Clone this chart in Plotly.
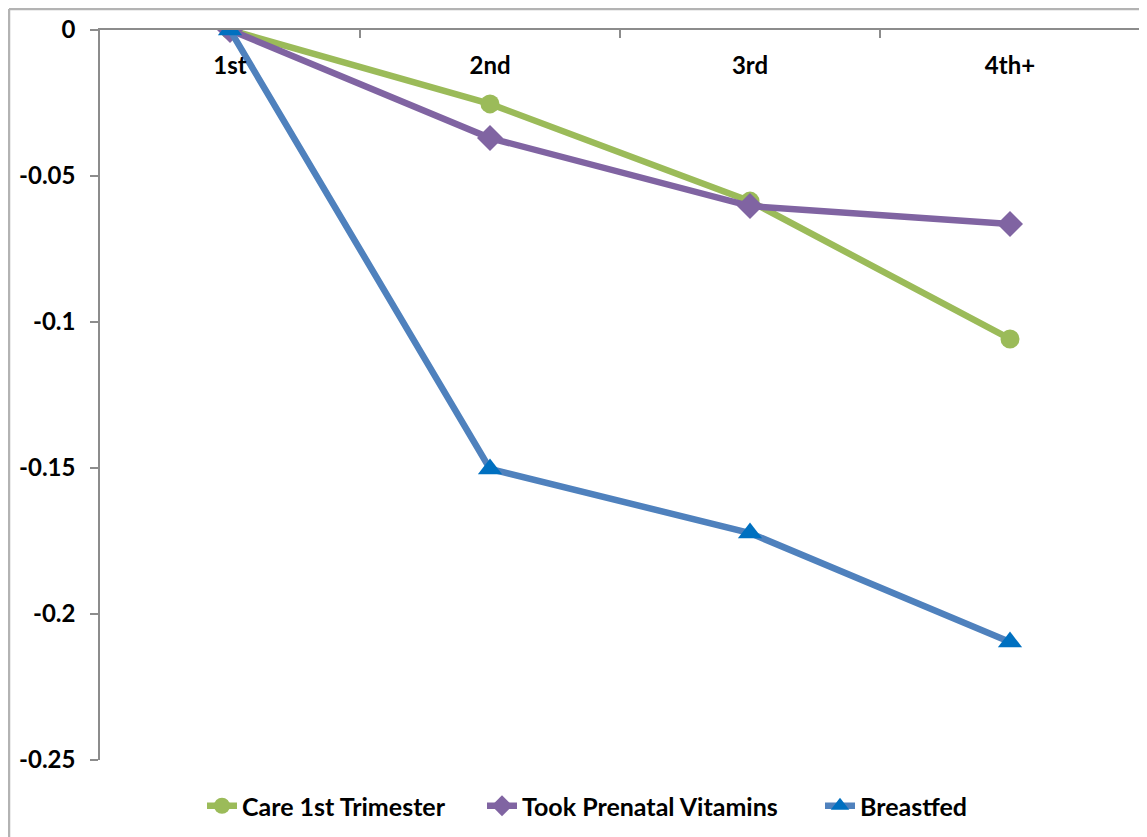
import plotly.graph_objects as go

categories = ["1st", "2nd", "3rd", "4th+"]
care_1st_trimester = [0.0, -0.0253, -0.0586, -0.1058]
took_prenatal_vitamins = [0.0, -0.0370, -0.0603, -0.0664]
breastfed = [0.0, -0.1503, -0.1723, -0.2096]

y_tickvals = [0, -0.05, -0.1, -0.15, -0.2, -0.25]
y_ticktext = ["0", "-0.05", "-0.1", "-0.15", "-0.2", "-0.25"]

FONT = "Lato"
FSIZE = 24
LSIZE = 25

# figure sits at (8,8) in the page because of the default body margin
W, H = 1139, 829
L, R, T, B = 92, 7, 22, 77
PW = W - L - R
PH = H - T - B

fig = go.Figure()
fig.add_trace(go.Scatter(
    x=categories, y=care_1st_trimester, name="Care 1st Trimester",
    mode="lines+markers", legend="legend",
    line=dict(color="#9BBB59", width=6.5),
    marker=dict(symbol="circle", size=19, color="#9BBB59"),
))
fig.add_trace(go.Scatter(
    x=categories, y=took_prenatal_vitamins, name="Took Prenatal Vitamins",
    mode="lines+markers", legend="legend2",
    line=dict(color="#8064A2", width=6.5),
    marker=dict(symbol="diamond", size=20, color="#8064A2"),
))
fig.add_trace(go.Scatter(
    x=categories, y=breastfed, name="Breastfed",
    mode="lines+markers", legend="legend3",
    line=dict(color="#4F81BD", width=6.5),
    marker=dict(symbol="triangle-up", size=21, color="#0070C0"),
))
# carrier for the category labels drawn just below the top axis line
fig.add_trace(go.Scatter(
    x=categories, y=[None] * len(categories), xaxis="x2",
    mode="lines", showlegend=False, hoverinfo="skip",
))


def legend_at(fig_x):
    return dict(
        orientation="h", x=(fig_x - L) / PW, xanchor="left",
        y=(PH + T - 798) / PH, yanchor="middle",
        font=dict(family=FONT, size=LSIZE, color="black", weight="bold"),
        bgcolor="rgba(0,0,0,0)",
    )


fig.update_layout(
    width=W, height=H,
    margin=dict(l=L, r=R, t=T, b=B),
    paper_bgcolor="white", plot_bgcolor="white",
    font=dict(family=FONT, size=FSIZE, color="black"),
    showlegend=True,
    legend=legend_at(194),
    legend2=legend_at(474),
    legend3=legend_at(812),
    xaxis=dict(
        type="category", range=[-0.5, 3.5], side="top",
        showline=True, linecolor="#8C8C8C", linewidth=1.5,
        ticks="inside", ticklen=8, tickcolor="#8C8C8C", tickwidth=1.5,
        tickson="boundaries", showticklabels=False,
        showgrid=False, zeroline=False, fixedrange=True,
    ),
    xaxis2=dict(
        type="category", range=[-0.5, 3.5], categoryarray=categories,
        overlaying="x", anchor="free", position=(PH + T - 41) / PH,
        side="bottom", showline=False, ticks="",
        tickfont=dict(family=FONT, size=FSIZE, color="black", weight="bold"),
        showgrid=False, zeroline=False, fixedrange=True,
    ),
    yaxis=dict(
        range=[-0.25, 0], tickvals=y_tickvals, ticktext=y_ticktext,
        showline=True, linecolor="#8C8C8C", linewidth=1.5,
        ticks="outside", ticklen=8, tickcolor="#8C8C8C", tickwidth=1.5,
        ticklabelstandoff=10,
        tickfont=dict(family=FONT, size=FSIZE, color="black", weight="bold"),
        showgrid=False, zeroline=False, fixedrange=True,
    ),
)

# outer chart-area border (top and left edges visible)
bx = (1 - L) / PW
by = (PH + T - 1) / PH
fig.add_shape(type="line", xref="paper", yref="paper",
              x0=bx, x1=(W - L) / PW, y0=by, y1=by,
              line=dict(color="#B3B3B3", width=2.5))
fig.add_shape(type="line", xref="paper", yref="paper",
              x0=bx, x1=bx, y0=by, y1=-B / PH,
              line=dict(color="#B3B3B3", width=2.5))

fig.write_html("out.html")
